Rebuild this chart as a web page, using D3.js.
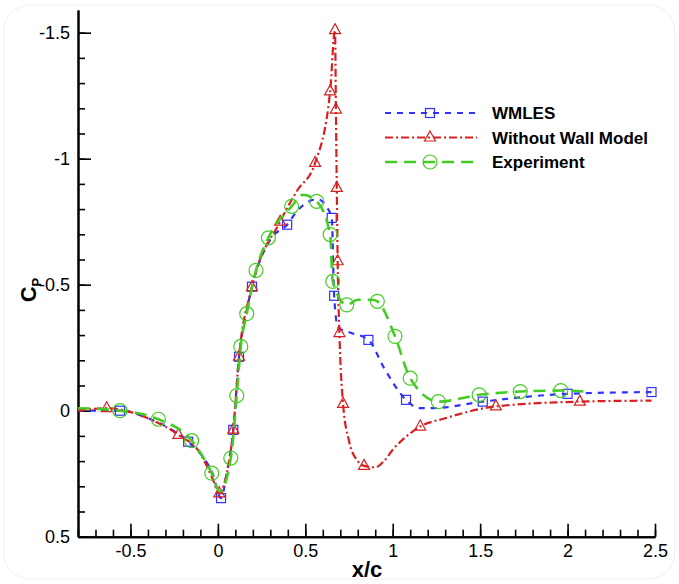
<!DOCTYPE html>
<meta charset="utf-8">
<style>
    body { margin: 0; background: #fff; }
    text { font-family: "Liberation Sans", Arial, sans-serif; }
    .tick text { font-size: 18px; fill: #000; }
    .legend text { font-size: 17px; font-weight: bold; }
</style>
<svg width="679" height="584"></svg>
<script src="https://cdn.jsdelivr.net/npm/d3@7"></script>
<script>

    // WMLES curve + markers
    var wmlesX = [-0.8, -0.56, -0.4, -0.17, -0.1, -0.03, 0.018, 0.05, 0.088, 0.121, 0.16, 0.195, 0.3, 0.396, 0.45, 0.52, 0.57, 0.62, 0.651, 0.665, 0.687, 0.756, 0.861, 0.95, 1.076, 1.15, 1.23, 1.515, 2.0, 2.48];
    var wmlesY = [0, 0, 0.03, 0.123, 0.17, 0.25, 0.347, 0.25, 0.076, -0.214, -0.38, -0.492, -0.68, -0.738, -0.79, -0.83, -0.84, -0.81, -0.765, -0.456, -0.33, -0.31, -0.281, -0.17, -0.043, -0.01, -0.01, -0.036, -0.067, -0.074];
    var wmlesMarkX = [-0.56, -0.17, 0.018, 0.088, 0.121, 0.195, 0.396, 0.651, 0.665, 0.861, 1.076, 1.515, 2.0, 2.48];
    var wmlesMarkY = [0, 0.123, 0.347, 0.076, -0.214, -0.492, -0.738, -0.765, -0.456, -0.281, -0.043, -0.036, -0.067, -0.074];

    // without wall model
    var nowmX = [-0.8, -0.636, -0.4, -0.226, -0.1, -0.03, 0.008, 0.04, 0.088, 0.121, 0.195, 0.356, 0.45, 0.556, 0.642, 0.67, 0.675, 0.68, 0.685, 0.695, 0.716, 0.75, 0.8, 0.836, 0.9, 0.95, 1.0, 1.1, 1.157, 1.3, 1.59, 2.07, 2.48];
    var nowmY = [0, -0.01, 0.03, 0.096, 0.17, 0.27, 0.328, 0.28, 0.075, -0.214, -0.49, -0.75, -0.87, -0.983, -1.267, -1.51, -1.195, -0.884, -0.593, -0.308, -0.027, 0.12, 0.2, 0.219, 0.225, 0.2, 0.155, 0.09, 0.063, 0.03, -0.017, -0.036, -0.04];
    var nowmMarkX = [-0.636, -0.226, 0.008, 0.088, 0.121, 0.195, 0.356, 0.556, 0.642, 0.67, 0.675, 0.68, 0.685, 0.695, 0.716, 0.836, 1.157, 1.59, 2.07];
    var nowmMarkY = [-0.01, 0.096, 0.328, 0.075, -0.214, -0.49, -0.75, -0.983, -1.267, -1.51, -1.195, -0.884, -0.593, -0.308, -0.027, 0.219, 0.063, -0.017, -0.036];

    // experiment
    var expX = [-0.8, -0.56, -0.34, -0.15, -0.035, 0.01, 0.074, 0.108, 0.131, 0.165, 0.218, 0.289, 0.422, 0.487, 0.565, 0.642, 0.657, 0.737, 0.8, 0.88, 0.912, 1.013, 1.1, 1.261, 1.494, 1.729, 1.961, 2.12];
    var expY = [-0.01, 0, 0.034, 0.119, 0.248, 0.32, 0.188, -0.06, -0.255, -0.385, -0.557, -0.686, -0.811, -0.857, -0.831, -0.699, -0.513, -0.42, -0.44, -0.44, -0.434, -0.295, -0.129, -0.036, -0.063, -0.076, -0.08, -0.075];
    var expMarkX = [-0.56, -0.34, -0.15, -0.035, 0.074, 0.108, 0.131, 0.165, 0.218, 0.289, 0.422, 0.565, 0.642, 0.657, 0.737, 0.912, 1.013, 1.1, 1.261, 1.494, 1.729, 1.961];
    var expMarkY = [0, 0.034, 0.119, 0.248, 0.188, -0.06, -0.255, -0.385, -0.557, -0.686, -0.811, -0.831, -0.699, -0.513, -0.42, -0.434, -0.295, -0.129, -0.036, -0.063, -0.076, -0.08];

    var xTicks = [-0.5, 0, 0.5, 1, 1.5, 2, 2.5];
    var yTicks = [-1.5, -1, -0.5, 0, 0.5];
    var legendNames = ["WMLES", "Without Wall Model", "Experiment"];

    var blue = "#3030ff", red = "#d82020", green = "#44cc22";

    var svg = d3.select("svg");

    // faint frame
    svg.append("rect")
        .attr("x", 4).attr("y", 5).attr("width", 671).attr("height", 574)
        .attr("rx", 26)
        .attr("fill", "none").attr("stroke", "#efefef");

    var x = d3.scaleLinear().domain([-0.8, 2.5]).range([78, 655]);
    var y = d3.scaleLinear().domain([-1.59, 0.5]).range([10, 536.7]);

    function zip(a, b) { return a.map(function(v, i) { return [v, b[i]]; }); }

    var line = d3.line()
        .x(function(d) { return x(d[0]); })
        .y(function(d) { return y(d[1]); })
        .curve(d3.curveMonotoneX);

    // axes
    var minorX = d3.range(-0.8, 2.5001, 0.1).map(function(v) { return Math.round(v * 10) / 10; });
    var minorY = d3.range(-1.5, 0.5001, 0.1).map(function(v) { return Math.round(v * 10) / 10; });

    svg.append("g").attr("transform", "translate(0,536.7)")
        .call(d3.axisBottom(x).tickValues(minorX).tickSize(-7).tickSizeOuter(0).tickFormat(""));
    var xa = svg.append("g").attr("transform", "translate(0,536.7)")
        .call(d3.axisBottom(x).tickValues(xTicks).tickSize(-13).tickSizeOuter(0).tickPadding(8)
            .tickFormat(function(d) { return String(d); }));

    svg.append("g").attr("transform", "translate(78,0)")
        .call(d3.axisLeft(y).tickValues(minorY).tickSize(-7).tickSizeOuter(0).tickFormat(""));
    var ya = svg.append("g").attr("transform", "translate(78,0)")
        .call(d3.axisLeft(y).tickValues(yTicks).tickSize(-13).tickSizeOuter(0).tickPadding(8)
            .tickFormat(function(d) { return String(d); }));

    svg.selectAll(".domain").attr("stroke", "#000").attr("stroke-width", 2);
    svg.selectAll(".tick line").attr("stroke", "#000").attr("stroke-width", 1.6);

    // axis titles
    svg.append("text")
        .attr("x", 367).attr("y", 577)
        .attr("text-anchor", "middle")
        .style("font-size", "22px").style("font-weight", "bold")
        .text("x/c");

    var cp = svg.append("text")
        .attr("transform", "translate(36,290) rotate(-90)")
        .attr("text-anchor", "middle")
        .style("font-size", "22px").style("font-weight", "bold");
    cp.append("tspan").text("C");
    cp.append("tspan").attr("dy", 5).style("font-size", "13px").text("P");

    // markers
    function square(g, px, py, c) {
        g.append("rect").attr("x", px - 4.5).attr("y", py - 4.5)
            .attr("width", 9).attr("height", 9)
            .attr("fill", "none").attr("stroke", c).attr("stroke-width", 1.2);
    }
    function triangle(g, px, py, c) {
        g.append("path")
            .attr("d", "M" + px + "," + (py - 6.5) + "L" + (px + 5.5) + "," + (py + 3.5) + "L" + (px - 5.5) + "," + (py + 3.5) + "Z")
            .attr("fill", "none").attr("stroke", c).attr("stroke-width", 1.2);
    }
    function circle(g, px, py, c) {
        g.append("circle").attr("cx", px).attr("cy", py).attr("r", 7)
            .attr("fill", "none").attr("stroke", c).attr("stroke-width", 1.2);
    }

    var series = [
        { pts: zip(wmlesX, wmlesY), marks: zip(wmlesMarkX, wmlesMarkY), color: blue, dash: "6,6", width: 2.2, mark: square },
        { pts: zip(nowmX, nowmY), marks: zip(nowmMarkX, nowmMarkY), color: red, dash: "8,3,2,3", width: 2.2, mark: triangle },
        { pts: zip(expX, expY), marks: zip(expMarkX, expMarkY), color: green, dash: "12,7", width: 2.6, mark: circle }
    ];

    var plot = svg.append("g");
    series.forEach(function(s) {
        plot.append("path")
            .attr("d", line(s.pts))
            .attr("fill", "none")
            .attr("stroke", s.color)
            .attr("stroke-width", s.width)
            .attr("stroke-dasharray", s.dash);
        var mg = plot.append("g");
        s.marks.forEach(function(d) { s.mark(mg, x(d[0]), y(d[1]), s.color); });
    });

    // legend
    var lg = svg.append("g").attr("class", "legend");
    series.forEach(function(s, i) {
        var ly = 113 + i * 24.5;
        lg.append("line")
            .attr("x1", 385).attr("x2", 477).attr("y1", ly).attr("y2", ly)
            .attr("stroke", s.color).attr("stroke-width", s.width)
            .attr("stroke-dasharray", s.dash);
        s.mark(lg, 430, ly, s.color);
        lg.append("text").attr("x", 492).attr("y", ly + 6).text(legendNames[i]);
    });
</script>
